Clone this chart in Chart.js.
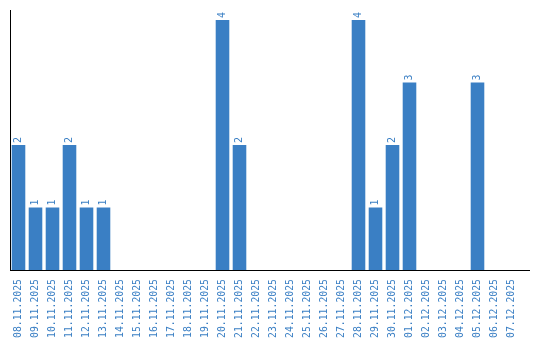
<!DOCTYPE html>
<html>
<head>
<meta charset="utf-8">
<script src="https://cdn.jsdelivr.net/npm/chart.js@4/dist/chart.umd.min.js"></script>
<style>
  html, body { margin: 0; padding: 0; background: #fff; }
  #wrap { width: 540px; height: 340px; }
</style>
</head>
<body>
<div id="wrap"><canvas id="chart"></canvas></div>
<script>
const days = [
    '08.11.2025', '09.11.2025', '10.11.2025', '11.11.2025', '12.11.2025', '13.11.2025',
    '14.11.2025', '15.11.2025', '16.11.2025', '17.11.2025', '18.11.2025', '19.11.2025',
    '20.11.2025', '21.11.2025', '22.11.2025', '23.11.2025', '24.11.2025', '25.11.2025',
    '26.11.2025', '27.11.2025', '28.11.2025', '29.11.2025', '30.11.2025', '01.12.2025',
    '02.12.2025', '03.12.2025', '04.12.2025', '05.12.2025', '06.12.2025', '07.12.2025'
];
const counts = [2, 1, 1, 2, 1, 1, 0, 0, 0, 0, 0, 0, 4, 2, 0, 0, 0, 0, 0, 0, 4, 1, 2, 3, 0, 0, 0, 3, 0, 0];

const BLUE = '#3a7fc4';
const MONO = '"DejaVu Sans Mono", monospace';

// value labels above bars, rotated like the axis labels
const barValues = {
    id: 'barValues',
    afterDatasetsDraw(chart) {
        const ctx = chart.ctx;
        const meta = chart.getDatasetMeta(0);
        ctx.save();
        ctx.fillStyle = BLUE;
        ctx.font = '10px ' + MONO;
        ctx.textAlign = 'left';
        ctx.textBaseline = 'middle';
        meta.data.forEach((bar, i) => {
            const v = counts[i];
            if (!v) return;
            ctx.save();
            ctx.translate(bar.x, bar.y - 2);
            ctx.rotate(-Math.PI / 2);
            ctx.fillText(String(v), 0, 0);
            ctx.restore();
        });
        ctx.restore();
    }
};

// x axis line runs a bit past the last category
const baseLine = {
    id: 'baseLine',
    afterDraw(chart) {
        const { ctx, chartArea } = chart;
        ctx.save();
        ctx.strokeStyle = '#000';
        ctx.lineWidth = 1;
        ctx.beginPath();
        ctx.moveTo(chartArea.left, chartArea.bottom + 0.5);
        ctx.lineTo(chartArea.right + 10, chartArea.bottom + 0.5);
        ctx.stroke();
        ctx.restore();
    }
};

new Chart(document.getElementById('chart'), {
    type: 'bar',
    data: {
        labels: days,
        datasets: [{ data: counts, backgroundColor: BLUE, borderWidth: 0, barPercentage: 0.8, categoryPercentage: 1 }]
    },
    options: {
        responsive: true, maintainAspectRatio: false, animation: false,
        layout: { padding: { left: 10, right: 20, top: 10, bottom: 0 } },
        plugins: { legend: { display: false }, tooltip: { enabled: false } },
        scales: {
            x: {
                grid: { display: false },
                border: { display: false },
                ticks: { color: BLUE, font: { family: MONO, size: 9.8 }, minRotation: 90, maxRotation: 90, autoSkip: false, padding: 1 },
                afterFit: s => { s.height = 70; }
            },
            y: {
                min: 0, max: 4.16,
                grid: { display: false },
                border: { color: '#000', width: 1 },
                ticks: { display: false },
                afterFit: s => { s.width = 0; }
            }
        }
    },
    plugins: [barValues, baseLine]
});
</script>
</body>
</html>
